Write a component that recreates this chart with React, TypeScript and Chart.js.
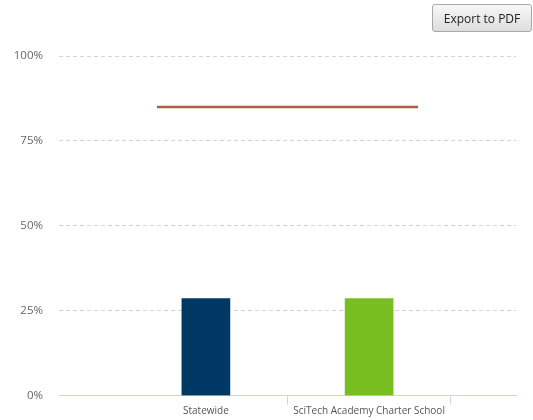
import React, { useEffect, useRef } from "react";
import { Chart, registerables } from "chart.js";

Chart.register(...registerables);

const categories = ["Statewide", "SciTech Academy Charter School"];
const barValues = [28.6, 28.6];
const barColors = ["#003865", "#78be20"];
const goalValue = 85;
const goalStart = -0.3;
const goalEnd = 1.3;
const yTicks = [0, 25, 50, 75, 100];

export default function App() {
  const ref = useRef<HTMLCanvasElement | null>(null);

  useEffect(() => {
    if (!ref.current) return;
    const chart = new Chart(ref.current, {
      type: "bar",
      data: {
        datasets: [
          {
            type: "bar",
            data: categories.map((_, i) => ({ x: i, y: barValues[i] })),
            backgroundColor: barColors,
            barThickness: 48,
            borderWidth: 0,
          } as any,
          {
            type: "line",
            data: [
              { x: goalStart, y: goalValue },
              { x: goalEnd, y: goalValue },
            ],
            borderColor: "#ad5f44",
            borderWidth: 2.5,
            pointRadius: 0,
            fill: false,
          } as any,
        ],
      },
      options: {
        animation: false,
        responsive: false,
        maintainAspectRatio: false,
        layout: { padding: { left: 0, right: 17, top: 56, bottom: 0 } },
        plugins: { legend: { display: false }, tooltip: { enabled: false } },
        scales: {
          x: {
            type: "linear",
            offset: false,
            min: -0.9,
            max: 1.9,
            afterBuildTicks: (scale: any) => {
              scale.ticks = [-0.5, 0, 0.5, 1, 1.5].map((v) => ({ value: v }));
            },
            afterFit: (scale: any) => {
              scale.height = 24.3;
            },
            border: { display: true, color: "#ccd6eb", width: 1 },
            grid: {
              offset: false,
              drawOnChartArea: false,
              drawTicks: true,
              tickLength: 9,
              color: (ctx: any) =>
                ctx.tick && (ctx.tick.value === 0.5 || ctx.tick.value === 1.5)
                  ? "#ccd6eb"
                  : "rgba(0,0,0,0)",
            },
            ticks: {
              autoSkip: false,
              maxRotation: 0,
              padding: 0,
              color: "#555",
              font: { family: "'Open Sans'", size: 10 },
              callback: (v: any) => {
                const n = Number(v);
                if (Number.isInteger(n) && categories[n] !== undefined) return categories[n];
                return "";
              },
            },
          },
          y: {
            min: 0,
            max: 100,
            afterBuildTicks: (scale: any) => {
              scale.ticks = yTicks.map((v) => ({ value: v }));
            },
            afterFit: (scale: any) => {
              scale.width = 59;
            },
            border: { display: false, dash: [4, 3] },
            grid: {
              drawTicks: false,
              color: (ctx: any) =>
                ctx.tick && ctx.tick.value === 0 ? "rgba(0,0,0,0)" : "#d4d4d4",
              lineWidth: 1,
            },
            ticks: {
              padding: 16,
              color: "#666",
              font: { family: "'Open Sans'", size: 11.5 },
              callback: (v: any) => v + "%",
            },
          },
        },
      },
    });
    return () => chart.destroy();
  }, []);

  return (
    <div style={{ position: "fixed", left: 0, top: 0, width: 533, height: 420, background: "#fff" }}>
      <canvas ref={ref} width={533} height={420} style={{ display: "block", width: 533, height: 420 }} />
      <button
        style={{
          position: "absolute",
          left: 432,
          top: 4,
          width: 100,
          height: 28,
          border: "1px solid #a8a8a8",
          borderRadius: 3,
          background: "linear-gradient(#f7f7f7, #dedede)",
          fontFamily: "'Open Sans', sans-serif",
          fontSize: 12,
          color: "#222",
          padding: 0,
        }}
      >
        Export to PDF
      </button>
    </div>
  );
}
